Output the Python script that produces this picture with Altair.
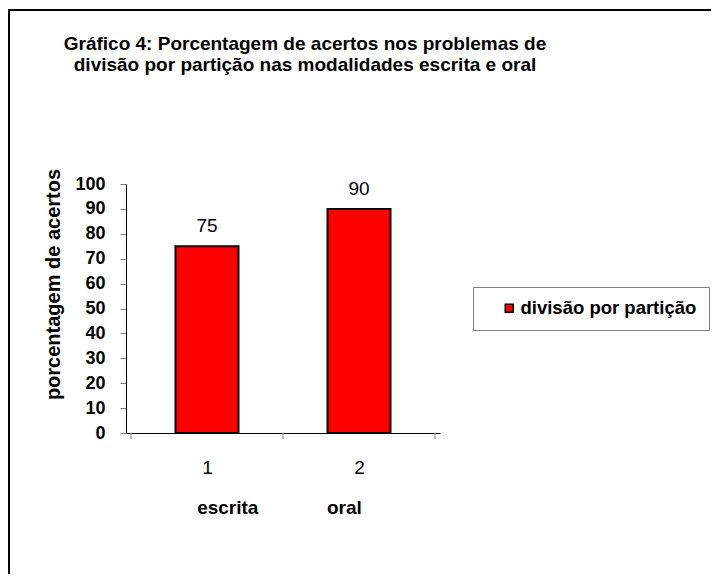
import altair as alt
import pandas as pd

categorias = [1, 2]
valores = [75, 90]
serie = "divisão por partição"
limites = [0.5, 1.5, 2.5]
y_ticks = [0, 10, 20, 30, 40, 50, 60, 70, 80, 90, 100]
modalidades = ["escrita", "oral"]
titulo = ["Gráfico 4: Porcentagem de acertos nos problemas de",
          "divisão por partição nas modalidades escrita e oral"]

FONT = "Liberation Sans"
NB = "\u00a0"

df = pd.DataFrame({"cat": categorias, "valor": valores, "serie": [serie] * len(categorias)})
df_lim = pd.DataFrame({"lim": limites})
df_one = pd.DataFrame({"a": [0]})

xscale = alt.Scale(domain=[0.5, 2.5], nice=False, zero=False)
yscale = alt.Scale(domain=[0, 100], nice=False)

x_axis = alt.Axis(values=categorias, format="d", ticks=False, tickSize=0, grid=False,
                  labelFont=FONT, labelFontSize=19, labelColor="black",
                  labelBaseline="alphabetic", labelPadding=40,
                  domainColor="black", domainWidth=1,
                  title=(NB * 13).join(modalidades), titleFont=FONT, titleFontSize=19,
                  titleFontWeight="bold", titleColor="black",
                  titleBaseline="alphabetic", titleY=80, titleX=153)

y_axis = alt.Axis(values=y_ticks, tickCount=11, grid=False, tickSize=6,
                  tickColor="#808080", labelFont=FONT, labelFontSize=18,
                  labelFontWeight="bold", labelColor="black", labelPadding=15,
                  labelOverlap=False, domainColor="black",
                  title="porcentagem de acertos", titleFont=FONT, titleFontSize=20,
                  titleFontWeight="bold", titleColor="black",
                  titleBaseline="alphabetic", titleAngle=270, titleAlign="center",
                  titleX=-67, titleY=100)

border = alt.Chart(df_one).mark_rect(fill=None, stroke="black", strokeWidth=2).encode(
    x=alt.value(-117), x2=alt.value(700), y=alt.value(-174), y2=alt.value(600)
)

bars = alt.Chart(df).mark_bar(size=63, stroke="black", strokeWidth=2).encode(
    x=alt.X("cat:Q", scale=xscale, axis=x_axis),
    y=alt.Y("valor:Q", scale=yscale, axis=y_axis),
    color=alt.Color("serie:N", scale=alt.Scale(range=["#ff0000"]),
                    legend=alt.Legend(title=None, orient="none", legendX=347, legendY=103,
                                      padding=12, strokeColor="#808080", fillColor="white",
                                      labelFont=FONT, labelFontSize=18.5, labelFontWeight="bold",
                                      labelColor="black", symbolType="square", symbolSize=64,
                                      symbolStrokeColor="black", symbolStrokeWidth=1.5,
                                      symbolOffset=15, labelOffset=2, labelLimit=400,
                                      labelExpr="datum.label + '" + NB + "'")),
)

labels = alt.Chart(df).mark_text(font=FONT, fontSize=19, color="black",
                                 baseline="alphabetic", dy=-14).encode(
    x=alt.X("cat:Q", scale=xscale, axis=x_axis),
    y=alt.Y("valor:Q", scale=yscale, axis=y_axis),
    text=alt.Text("valor:Q")
)

ticks = alt.Chart(df_lim).mark_rule(color="#808080", strokeWidth=1).encode(
    x=alt.X("lim:Q", scale=xscale, axis=x_axis), y=alt.value(249), y2=alt.value(255)
)

chart = alt.layer(border, bars, labels, ticks).properties(
    width=314, height=249,
    autosize="none",
    padding={"left": 118, "top": 176, "right": 271, "bottom": 141},
    title=alt.TitleParams(text=titulo, anchor="middle", frame="group", dx=22, offset=-66,
                          font=FONT, fontSize=19, fontWeight="bold", color="black",
                          lineHeight=21),
).configure_view(stroke=None)

chart.save("out.html", embed_options={"renderer": "svg", "actions": False})
